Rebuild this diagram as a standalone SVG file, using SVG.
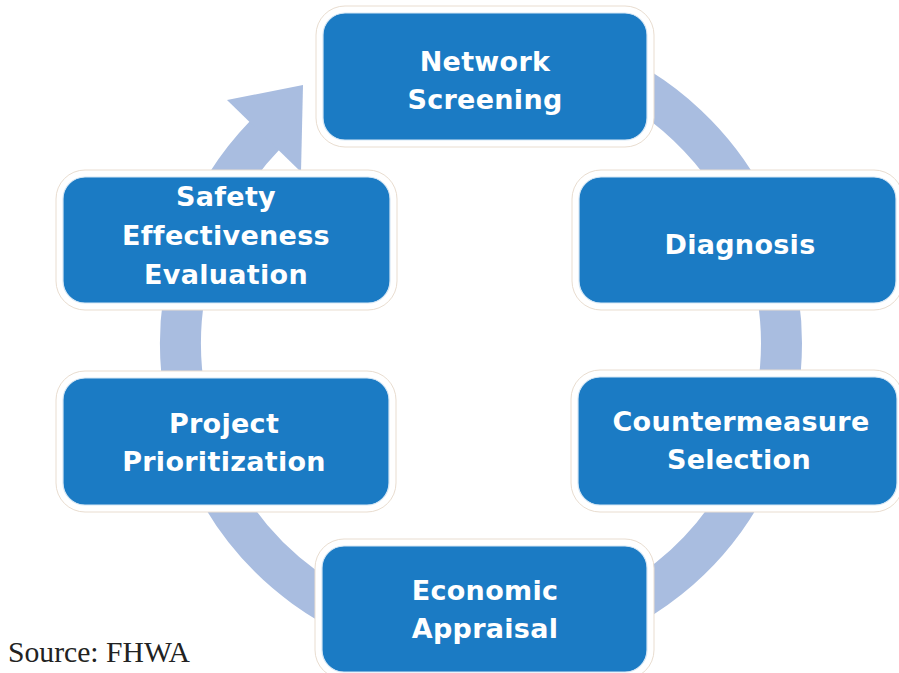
<svg xmlns="http://www.w3.org/2000/svg" width="899" height="673" viewBox="0 0 899 673">
  <style>
    .halo { fill: #ffffff; stroke: #e9ddd0; stroke-width: 1; }
    .box { fill: #1b7bc4; stroke: #d6e7f5; stroke-width: 1.2; }
    .label { font-family: "DejaVu Sans", "Liberation Sans", sans-serif; font-weight: bold; font-size: 27px; letter-spacing: 0.3px; fill: #ffffff; text-anchor: middle; }
    .ring { fill: none; stroke: #a9bde0; stroke-width: 41; }
    .source { font-family: "Liberation Serif", "Times New Roman", serif; font-size: 30px; fill: #222222; }
  </style>
  <rect width="899" height="673" fill="#ffffff"/>

  <!-- cycle ring with arrowhead pointing back to the first step -->
  <g id="connectors">
    <path class="ring" d="M 264.8 135.2 A 300.5 300.5 0 1 0 583.8 61.6"/>
    <polygon points="227,100 303,85 301,172" fill="#a9bde0"/>
  </g>

  <g id="network-screening">
    <rect class="halo" x="316" y="6" width="338" height="141" rx="29"/>
    <rect class="box" x="323" y="13" width="324" height="127" rx="22"/>
    <text class="label" x="485" y="71">Network</text>
    <text class="label" x="485" y="109">Screening</text>
  </g>

  <g id="diagnosis">
    <rect class="halo" x="572" y="170" width="331" height="140" rx="29"/>
    <rect class="box" x="579" y="177" width="317" height="126" rx="22"/>
    <text class="label" x="740" y="254">Diagnosis</text>
  </g>

  <g id="countermeasure-selection">
    <rect class="halo" x="571" y="370" width="332" height="142" rx="29"/>
    <rect class="box" x="578" y="377" width="319" height="128" rx="22"/>
    <text class="label" x="741" y="431">Countermeasure</text>
    <text class="label" x="739" y="469">Selection</text>
  </g>

  <g id="economic-appraisal">
    <rect class="halo" x="315" y="539" width="339" height="140" rx="29"/>
    <rect class="box" x="322" y="546" width="325" height="126" rx="22"/>
    <text class="label" x="485" y="600">Economic</text>
    <text class="label" x="485" y="638">Appraisal</text>
  </g>

  <g id="project-prioritization">
    <rect class="halo" x="56" y="371" width="340" height="141" rx="29"/>
    <rect class="box" x="63" y="378" width="326" height="127" rx="22"/>
    <text class="label" x="224" y="433">Project</text>
    <text class="label" x="224" y="471">Prioritization</text>
  </g>

  <g id="safety-effectiveness-evaluation">
    <rect class="halo" x="56" y="170" width="341" height="140" rx="29"/>
    <rect class="box" x="63" y="177" width="327" height="126" rx="22"/>
    <text class="label" x="226" y="206">Safety</text>
    <text class="label" x="226" y="245">Effectiveness</text>
    <text class="label" x="226" y="284">Evaluation</text>
  </g>

  <text class="source" x="8" y="662" textLength="182" lengthAdjust="spacingAndGlyphs">Source: FHWA</text>
</svg>
